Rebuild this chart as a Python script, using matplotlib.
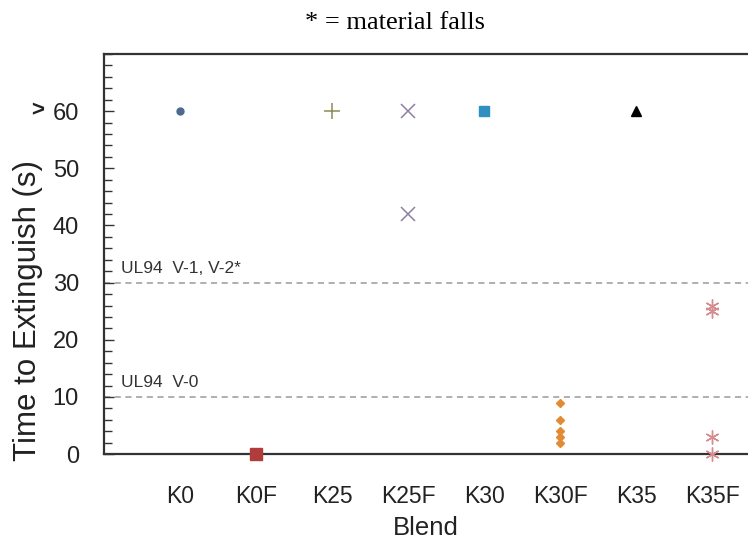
import matplotlib.pyplot as plt
from matplotlib.ticker import MultipleLocator

blends = ["K0", "K0F", "K25", "K25F", "K30", "K30F", "K35", "K35F"]
# extinguish times (s); 60 stands for "more than 60"
times = {
    "K0": [60],
    "K0F": [0],
    "K25": [60],
    "K25F": [60, 42],
    "K30": [60],
    "K30F": [9, 6, 4, 3, 2],
    "K35": [60],
    "K35F": [26, 25, 3, 0],
}
styles = {
    "K0": dict(marker="o", color="#4d6a8c", ms=5),
    "K0F": dict(marker="s", color="#b23b3b", ms=8),
    "K25": dict(marker="+", color="#8c8a55", ms=11, mew=1.1),
    "K25F": dict(marker="x", color="#8c80a3", ms=10, mew=1.1),
    "K30": dict(marker="s", color="#2f8fc0", ms=7),
    "K30F": dict(marker="D", color="#e28b34", ms=4),
    "K35": dict(marker="^", color="black", ms=7),
    "K35F": dict(marker=(6, 2, 0), color="#d48c8f", ms=10, mew=1.0),
}
limits = [(30, "UL94  V-1, V-2*"), (10, "UL94  V-0")]

plt.rcParams["font.family"] = ["Liberation Sans", "DejaVu Sans"]

fig = plt.figure(figsize=(7.48, 5.4), dpi=100)
ax = fig.add_axes([0.139, 0.159, 0.861, 0.741])

for i, b in enumerate(blends):
    ys = times[b]
    ax.plot([i] * len(ys), ys, ls="none", clip_on=False, zorder=3, **styles[b])

for y, txt in limits:
    ax.axhline(y, color="#9a9a9a", lw=1.1, ls=(0, (4, 3)), zorder=1)
    ax.text(-0.78, y + 1.2, txt, fontsize=12.5, color="#333333", va="bottom")

ax.set_xlim(-1, 7.47)
ax.set_ylim(0, 70)
ax.set_xticks(range(len(blends)))
ax.set_xticklabels(blends)
ax.set_yticks(range(0, 61, 10))
ax.set_yticklabels(["0", "10", "20", "30", "40", "50", "60"])
ax.yaxis.set_minor_locator(MultipleLocator(2))
# "more than" sign in front of the 60 label
ax.annotate(">", xy=(0, 60), xycoords=ax.get_yaxis_transform(),
            xytext=(-60, 0), textcoords="offset pixels",
            fontsize=16, fontweight="bold", ha="right", va="center",
            color="#222222")

ax.tick_params(axis="x", length=0, pad=22, labelsize=16.5, colors="#222222")
ax.tick_params(axis="y", which="major", direction="in", length=7, width=1,
               pad=18, labelsize=17, colors="#333333", labelcolor="#222222")
ax.tick_params(axis="y", which="minor", direction="in", length=6, width=1,
               colors="#333333")

for s in ["left", "top", "bottom"]:
    ax.spines[s].set_color("#333333")
    ax.spines[s].set_linewidth(1.6)
ax.spines["right"].set_visible(False)

ax.set_xlabel("Blend", fontsize=18.5, color="#222222", labelpad=6)
ax.set_ylabel("Time to Extinguish (s)", fontsize=22.5, color="#222222")
ax.yaxis.set_label_coords(-0.095, 0.36)

fig.text(0.528, 0.958, "* = material falls", ha="center", va="center",
         fontsize=19, family="Liberation Serif", color="black")

fig.savefig("out.png", dpi=100)
